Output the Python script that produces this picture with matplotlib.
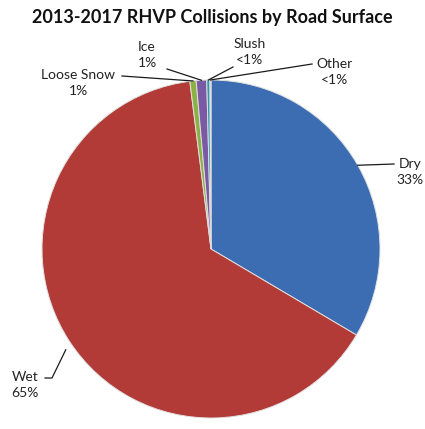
import numpy as np
import matplotlib.pyplot as plt

categories = ["Dry", "Wet", "Loose Snow", "Ice", "Slush", "Other"]
shares = [33.5, 64.5, 0.6, 1.0, 0.3, 0.1]
pct_labels = ["33%", "65%", "1%", "1%", "<1%", "<1%"]
colors = ["#3C6DB2", "#B23A37", "#8CB043", "#7A5AA5", "#2D97AE", "#EE8A30"]

W, H = 425, 429
# label anchor (pixel coords from top-left) and elbow point of the leader line
label_pos = {
    "Dry": (410, 172),
    "Wet": (25, 385),
    "Loose Snow": (78, 83),
    "Ice": (147, 55),
    "Slush": (250, 52),
    "Other": (335, 72),
}
elbow = {
    "Dry": (394, 164),
    "Wet": (52, 378),
    "Loose Snow": (122, 76),
    "Ice": (167, 69),
    "Slush": (233, 67),
    "Other": (312, 64),
}

fig = plt.figure(figsize=(W / 100, H / 100), dpi=100)
ax = fig.add_axes([0, 0, 1, 1])
plt.rcParams['font.family'] = ['Lato', 'DejaVu Sans']

cx, cy, r = 211, H - 249, 169
wedges, _ = ax.pie(shares, colors=colors, startangle=90, counterclock=False,
                   center=(cx, cy), radius=r, frame=True,
                   wedgeprops=dict(edgecolor="#E0E0E0", linewidth=0.7))
ax.set_xlim(0, W)
ax.set_ylim(0, H)
ax.set_aspect('equal', adjustable='datalim')
ax.axis('off')

for w, cat, pct in zip(wedges, categories, pct_labels):
    lx, ly = label_pos[cat]
    ax.text(lx, H - ly, cat + "\n" + pct, ha='center', va='center',
            fontsize=10, linespacing=1.45, color="#222222")
    mid = np.deg2rad((w.theta1 + w.theta2) / 2)
    ex, ey = cx + r * np.cos(mid), cy + r * np.sin(mid)
    bx, by = elbow[cat]
    if cat == "Wet":
        xs, ys = [ex - 4, bx, 45], [ey - 8, H - by, H - by]
    else:
        xs, ys = [ex, bx], [ey, H - by]
    ax.plot(xs, ys, color="#1a1a1a", lw=0.9)

fig.text(0.5, 1 - 18 / H, "2013-2017 RHVP Collisions by Road Surface",
         ha='center', va='center', fontsize=13, fontweight='bold', color="#111111")

fig.savefig("out.png", dpi=100, facecolor="white")
